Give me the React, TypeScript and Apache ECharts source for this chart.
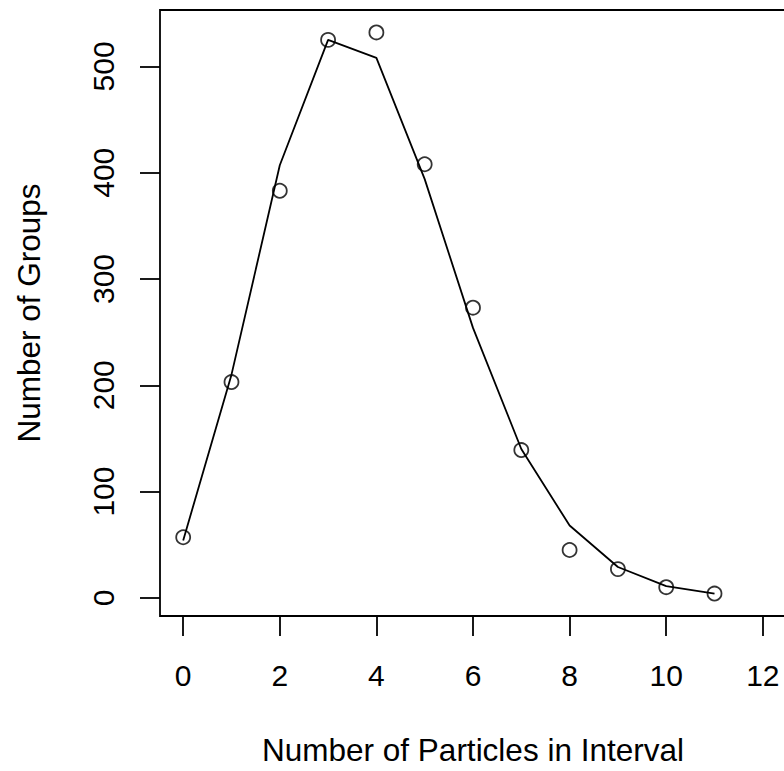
import React, { useEffect, useRef } from "react";
import * as echarts from "echarts";

const counts = [0, 1, 2, 3, 4, 5, 6, 7, 8, 9, 10, 11];
const observed = [57, 203, 383, 525, 532, 408, 273, 139, 45, 27, 10, 4];
const expected = [54, 210, 407, 525, 508, 394, 254, 140, 68, 29, 11, 4];
const xTicks = [0, 2, 4, 6, 8, 10, 12];
const yTicks = [0, 100, 200, 300, 400, 500];

const FONT = "Liberation Sans, Arial, Helvetica, sans-serif";
const LW = 1.8;

export default function App() {
  const ref = useRef<HTMLDivElement>(null);
  useEffect(() => {
    if (!ref.current) return;
    const chart = echarts.init(ref.current, undefined, { renderer: "svg" });
    chart.setOption({
      animation: false,
      backgroundColor: "#ffffff",
      grid: {
        left: 160,
        top: 10,
        width: 626,
        height: 606.7,
        show: true,
        borderColor: "#000",
        borderWidth: LW,
        backgroundColor: "transparent",
      },
      xAxis: {
        type: "value",
        min: -0.48,
        max: 12.48,
        name: "Number of Particles in Interval",
        nameLocation: "middle",
        nameGap: 118,
        nameTextStyle: { fontSize: 31.5, color: "#000", fontFamily: FONT },
        axisLine: { show: false, onZero: false },
        splitLine: { show: false },
        axisTick: {
          show: true,
          length: 20,
          inside: false,
          customValues: xTicks,
          lineStyle: { color: "#000", width: LW },
        },
        axisLabel: {
          customValues: xTicks,
          fontSize: 30,
          color: "#000",
          fontFamily: FONT,
          margin: 44,
        },
      },
      yAxis: {
        type: "value",
        min: -17.12,
        max: 553.12,
        name: "Number of Groups",
        nameLocation: "middle",
        nameGap: 115,
        nameTextStyle: { fontSize: 31.5, color: "#000", fontFamily: FONT },
        axisLine: { show: false, onZero: false },
        splitLine: { show: false },
        axisTick: {
          show: true,
          length: 20,
          inside: false,
          customValues: yTicks,
          lineStyle: { color: "#000", width: LW },
        },
        axisLabel: {
          customValues: yTicks,
          fontSize: 30,
          color: "#000",
          fontFamily: FONT,
          rotate: 90,
          margin: 42,
        },
      },
      series: [
        {
          type: "line",
          data: counts.map((c, i) => [c, expected[i]]),
          showSymbol: false,
          symbol: "none",
          lineStyle: { color: "#000", width: LW },
          z: 2,
        },
        {
          type: "scatter",
          data: counts.map((c, i) => [c, observed[i]]),
          symbol: "circle",
          symbolSize: 14,
          itemStyle: {
            color: "transparent",
            borderColor: "#000",
            borderWidth: LW,
          },
          z: 3,
        },
      ],
    });
    return () => chart.dispose();
  }, []);
  return (
    <div
      style={{
        position: "fixed",
        left: 0,
        top: 0,
        width: 784,
        height: 771,
        overflow: "hidden",
        background: "#fff",
      }}
    >
      <div ref={ref} style={{ width: 800, height: 771 }} />
    </div>
  );
}
